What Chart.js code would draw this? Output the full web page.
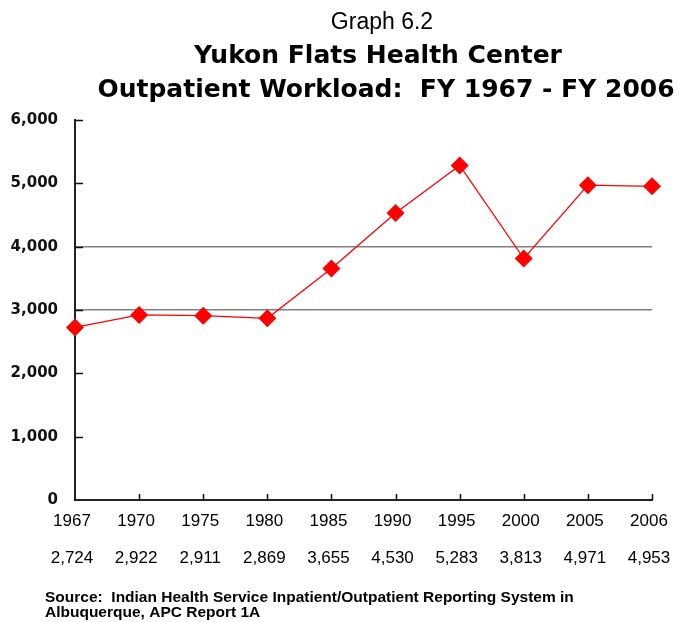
<!DOCTYPE html>
<html>
<head>
<meta charset="utf-8">
<title>Yukon Flats Health Center Outpatient Workload</title>
<script src="https://cdn.jsdelivr.net/npm/chart.js@4.4.1/dist/chart.umd.min.js"></script>
<style>
  html, body { margin: 0; padding: 0; background: #fff; }
  #wrap { position: relative; width: 679px; height: 622px; }
</style>
</head>
<body>
<div id="wrap"><canvas id="chart" width="679" height="622"></canvas></div>
<script>
// data
const years = ['1967', '1970', '1975', '1980', '1985', '1990', '1995', '2000', '2005', '2006'];
const visits = [2724, 2922, 2911, 2869, 3655, 4530, 5283, 3813, 4971, 4953];
const yMax = 6000;
const yStep = 1000;
const ruledValues = [3000, 4000]; // only these two get a horizontal rule

const graphNumber = 'Graph 6.2';
const titleLines = ['Yukon Flats Health Center', 'Outpatient Workload:  FY 1967 - FY 2006'];
const sourceLines = [
  'Source:  Indian Health Service Inpatient/Outpatient Reporting System in',
  'Albuquerque, APC Report 1A'
];

const fmt = n => n.toLocaleString('en-US');

// titles on top, source note at the bottom
const textBlocks = {
  id: 'textBlocks',
  afterDraw(chart) {
    const ctx = chart.ctx;
    ctx.save();
    ctx.fillStyle = '#000';
    ctx.textBaseline = 'alphabetic';
    ctx.textAlign = 'center';
    ctx.font = '23px "Liberation Sans", Arial, sans-serif';
    ctx.fillText(graphNumber, 382, 29);
    ctx.font = 'bold 25px "DejaVu Sans", sans-serif';
    ctx.fillText(titleLines[0], 378, 63);
    ctx.fillText(titleLines[1], 386, 97);
    ctx.textAlign = 'left';
    ctx.font = 'bold 15.5px "Liberation Sans", Arial, sans-serif';
    ctx.fillText(sourceLines[0], 45, 602);
    ctx.fillText(sourceLines[1], 45, 617);
    ctx.restore();
  }
};

// short tick marks pointing into the plot
const innerTicks = {
  id: 'innerTicks',
  beforeDatasetsDraw(chart) {
    const { ctx, scales: { x, y } } = chart;
    ctx.save();
    ctx.strokeStyle = '#111';
    ctx.lineWidth = 1.5;
    ctx.beginPath();
    y.ticks.forEach(t => {
      if (t.value === 0) return;
      const py = Math.round(y.getPixelForValue(t.value)) + 0.5;
      ctx.moveTo(x.left, py);
      ctx.lineTo(x.left + 8, py);
    });
    years.forEach((yr, i) => {
      if (i === 0) return;
      const px = Math.round(x.getPixelForValue(i)) + 0.5;
      ctx.moveTo(px, y.bottom);
      ctx.lineTo(px, y.bottom - 6);
    });
    ctx.stroke();
    ctx.restore();
  }
};

new Chart(document.getElementById('chart'), {
  type: 'line',
  data: {
    labels: years,
    datasets: [{
      label: 'Outpatient visits',
      data: visits,
      borderColor: '#ff0000',
      backgroundColor: '#ff0000',
      borderWidth: 1.3,
      pointStyle: 'rectRot',
      pointRadius: 9,
      pointHoverRadius: 9,
      pointBorderWidth: 0,
      tension: 0,
      fill: false
    }]
  },
  options: {
    responsive: false,
    animation: false,
    layout: { padding: { top: 120, left: 0, right: 27, bottom: 42 } },
    plugins: {
      legend: { display: false },
      title: { display: false },
      tooltip: { enabled: false }
    },
    scales: {
      x: {
        offset: false,
        grid: { display: false },
        border: { display: true, color: '#222', width: 2 },
        ticks: {
          color: '#000',
          padding: -5,
          labelOffset: -3,
          maxRotation: 0,
          autoSkip: false,
          font: { family: '"Liberation Sans", Arial, sans-serif', size: 17, lineHeight: 2.18 },
          callback: (v, i) => [years[i], fmt(visits[i])]
        },
        afterFit(scale) { scale.height = 80; }
      },
      y: {
        min: 0,
        max: yMax,
        grid: {
          drawTicks: false,
          color: c => (c.tick && ruledValues.includes(c.tick.value)) ? '#808080' : 'rgba(0,0,0,0)',
          lineWidth: 1.5
        },
        border: { display: true, color: '#222', width: 2 },
        ticks: {
          stepSize: yStep,
          color: '#111',
          padding: 17,
          font: { family: '"DejaVu Sans", sans-serif', size: 15, weight: 'bold' },
          callback: v => fmt(v)
        },
        afterFit(scale) { scale.width = 75; }
      }
    }
  },
  plugins: [innerTicks, textBlocks]
});
</script>
</body>
</html>
